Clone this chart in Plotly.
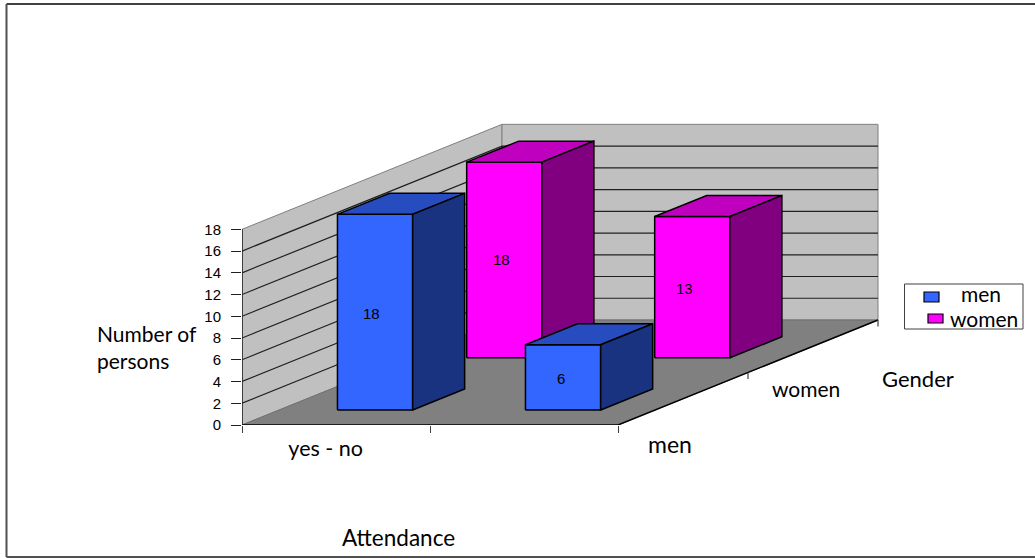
import plotly.graph_objects as go

# Chart data
attendance = ["yes - no", ""]
genders = ["men", "women"]
men_counts = [18, 6]
women_counts = [18, 13]
value_ticks = list(range(0, 20, 2))

# Page and oblique projection settings (pixels)
WIDTH, HEIGHT = 1035, 558
LEFT, BASE = 242, 425
PX_PER_CAT = 188
PX_PER_UNIT = 10.87
DEPTH_DX = 260 / PX_PER_CAT
DEPTH_DY = 105 / PX_PER_UNIT
TOP_VALUE = 18

BAR_START = 0.31
BAR_WIDTH = 0.4
DEPTH_SPANS = {"men": (0.143, 0.343), "women": (0.64, 0.84)}
COLORS = {
    "men": ("#3366FF", "#264CBF", "#193380"),
    "women": ("#FF00FF", "#BF00BF", "#800080"),
}
COUNTS = {"men": men_counts, "women": women_counts}
LABEL_SHIFTS = {("men", 0): (-4, -1), ("women", 0): (-3, 0), ("men", 1): (-2, -1), ("women", 1): (-8, -1)}

# Legend layout: swatch box (x0, x1, y0, y1) and text centre (x, y), in pixels
LEGEND_BOX = (904.5, 1023, 284, 329)
LEGEND_ITEMS = {
    "men": ((924, 939, 292, 302), (981, 293)),
    "women": ((928, 943, 314, 323), (983.5, 318)),
}

TEXT_FONT = "Lato, sans-serif"
NUM_FONT = "Liberation Sans, Arial, sans-serif"


def project(x, depth, value):
    """Oblique projection of a (category, depth, value) point onto the plot plane."""
    return x + depth * DEPTH_DX, value + depth * DEPTH_DY


def path(points):
    pts = [project(*p) for p in points]
    return [p[0] for p in pts], [p[1] for p in pts]


def add_poly(fig, points, fill=None, line="#000000", width=1.0):
    xs, ys = path(points + ([points[0]] if fill else []))
    fig.add_trace(go.Scatter(
        x=xs, y=ys, mode="lines", fill="toself" if fill else "none",
        fillcolor=fill, line=dict(color=line, width=width),
        hoverinfo="skip", showlegend=False,
    ))


def px(x):
    return (x - LEFT) / (WIDTH - LEFT)


def py(y):
    return (BASE - y) / BASE


def paper_rect(x0, x1, y0, y1, fill, line, width):
    return dict(type="rect", xref="paper", yref="paper", x0=px(x0), x1=px(x1), y0=py(y0), y1=py(y1),
                fillcolor=fill, line=dict(color=line, width=width))


def paper_line(x0, x1, y0, y1, color, width):
    return dict(type="line", xref="paper", yref="paper", x0=px(x0), x1=px(x1), y0=py(y0), y1=py(y1),
                line=dict(color=color, width=width), layer="below")


fig = go.Figure()
n_cat = len(attendance)

# Walls and floor
add_poly(fig, [(0, 0, 0), (0, 1, 0), (0, 1, TOP_VALUE), (0, 0, TOP_VALUE)], "#C0C0C0", "#808080")
add_poly(fig, [(0, 1, 0), (n_cat, 1, 0), (n_cat, 1, TOP_VALUE), (0, 1, TOP_VALUE)], "#C0C0C0", "#808080")
add_poly(fig, [(0, 0, 0), (n_cat, 0, 0), (n_cat, 1, 0), (0, 1, 0)], "#808080", "#707070")

# Gridlines run along the side wall and then across the back wall
for v in value_ticks[1:-1]:
    add_poly(fig, [(0, 0, v), (0, 1, v), (n_cat, 1, v)], None, "#202020", 1.2)

# Axis edges and the ticks of the depth axis
add_poly(fig, [(0, 0, 0), (0, 0, TOP_VALUE)], None, "#202020", 1.5)
add_poly(fig, [(0, 0, 0), (n_cat, 0, 0), (n_cat, 1, 0)], None, "#000000", 1.5)
for d in (0, 0.5, 1):
    add_poly(fig, [(n_cat, d, 0), (n_cat, d, -0.6)], None, "#404040", 1.2)

# Bars, back row first so nearer boxes overlap it
for name in ("women", "men"):
    d0, d1 = DEPTH_SPANS[name]
    front, top, side = COLORS[name]
    for i, v in enumerate(COUNTS[name]):
        x0, x1 = i + BAR_START, i + BAR_START + BAR_WIDTH
        add_poly(fig, [(x0, d0, 0), (x1, d0, 0), (x1, d0, v), (x0, d0, v)], front, width=1.5)
        add_poly(fig, [(x0, d0, v), (x1, d0, v), (x1, d1, v), (x0, d1, v)], top, width=1.5)
        add_poly(fig, [(x1, d0, 0), (x1, d1, 0), (x1, d1, v), (x1, d0, v)], side, width=1.5)
        cx, cy = project((x0 + x1) / 2, d0, v / 2)
        sx, sy = LABEL_SHIFTS[(name, i)]
        fig.add_annotation(x=cx, y=cy, text=str(v), showarrow=False, xshift=sx, yshift=sy,
                           font=dict(family=NUM_FONT, size=15, color="#000000"))

# Category labels on the depth axis
for label, depth, sx, sy, size in (("men", 0.25, -13, -45, 23), ("women", 0.75, -7, -42, 21)):
    cx, cy = project(n_cat, depth, 0)
    fig.add_annotation(x=cx, y=cy, text=label, showarrow=False, xshift=sx, yshift=sy,
                       font=dict(family=TEXT_FONT, size=size, color="#000000"))

# Axis titles
for text, x, y, align, size in (("Number of<br>persons", 147, 346.5, "left", 21),
                                ("Attendance", 398, 537, "center", 22.5),
                                ("Gender", 918, 378, "center", 22)):
    fig.add_annotation(xref="paper", yref="paper", x=px(x), y=py(y), text=text, showarrow=False,
                       xanchor="center", yanchor="middle", align=align,
                       font=dict(family=TEXT_FONT, size=size, color="#000000"))

# Chart frame and legend
shapes = [
    paper_line(6.5, 1040, 4, 4, "#000000", 1.5),
    paper_line(6.5, 6.5, 4, 557, "#505050", 2),
    paper_line(6.5, 1040, 557, 557, "#505050", 2),
    paper_rect(*LEGEND_BOX, "white", "#404040", 1),
]
for name in genders:
    swatch, (tx, ty) = LEGEND_ITEMS[name]
    shapes.append(paper_rect(*swatch, COLORS[name][0], "#000000", 1.2))
    fig.add_annotation(xref="paper", yref="paper", x=px(tx), y=py(ty), text=name, showarrow=False,
                       xanchor="center", yanchor="middle",
                       font=dict(family=TEXT_FONT, size=21, color="#000000"))

fig.update_layout(
    width=WIDTH, height=HEIGHT,
    margin=dict(l=LEFT, r=0, t=0, b=HEIGHT - BASE, autoexpand=False),
    paper_bgcolor="white", plot_bgcolor="white",
    showlegend=False,
    xaxis=dict(
        range=[0, (WIDTH - LEFT) / PX_PER_CAT], showgrid=False, zeroline=False, showline=False,
        tickmode="array", tickvals=[0.445], ticktext=attendance[:1], ticks="", ticklabelstandoff=8,
        tickfont=dict(family=TEXT_FONT, size=21.5, color="#000000"),
        minor=dict(tickmode="array", tickvals=[0, 1, 2], ticks="outside", ticklen=7,
                   tickcolor="#404040", tickwidth=1.2, showgrid=False),
    ),
    yaxis=dict(
        range=[0, BASE / PX_PER_UNIT], showgrid=False, zeroline=False, showline=False,
        tickmode="array", tickvals=value_ticks, ticks="outside", ticklen=10, tickcolor="#202020",
        tickwidth=1.2, ticklabelstandoff=7,
        tickfont=dict(family=NUM_FONT, size=15, color="#000000"),
    ),
    shapes=shapes,
)

fig.write_html("out.html")
